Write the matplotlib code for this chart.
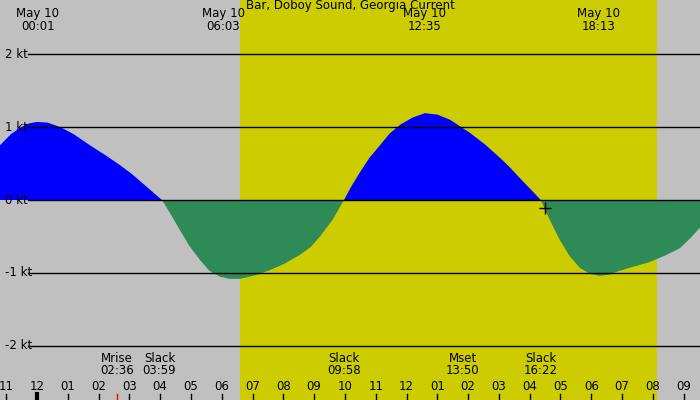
import matplotlib
matplotlib.use("Agg")
import matplotlib.pyplot as plt
import numpy as np

# hours since midnight May 10, current speed (kt)
hours = [-1.20, -0.85, -0.55, -0.25, 0.0, 0.35, 0.75, 1.2, 1.72, 2.2, 2.69, 3.1, 3.51, 4.06,
         4.35, 4.64, 4.95, 5.29, 5.6, 5.94, 6.25, 6.59, 7.1, 7.57, 8.05, 8.54, 8.9, 9.19, 9.6,
         9.97, 10.2, 10.49, 10.8, 11.14, 11.45, 11.79, 12.2, 12.60, 13.0, 13.41, 14.06, 14.55,
         15.03, 15.35, 15.68, 16.0, 16.36, 16.65, 16.98, 17.3, 17.63, 17.95, 18.27, 18.6,
         18.92, 19.4, 19.90, 20.4, 20.88, 21.2, 21.53]
speed = [0.75, 0.90, 0.99, 1.05, 1.07, 1.06, 1.00, 0.90, 0.75, 0.62, 0.48, 0.35, 0.20, 0.0,
         -0.20, -0.41, -0.63, -0.82, -0.97, -1.05, -1.08, -1.08, -1.03, -0.96, -0.87, -0.75,
         -0.64, -0.50, -0.27, 0.0, 0.18, 0.38, 0.58, 0.75, 0.91, 1.03, 1.13, 1.19, 1.17, 1.10,
         0.92, 0.76, 0.58, 0.45, 0.30, 0.16, 0.0, -0.27, -0.55, -0.77, -0.93, -1.01, -1.04,
         -1.02, -0.97, -0.91, -0.85, -0.76, -0.66, -0.53, -0.38]
top_labels = ["May 10\n00:01", "May 10\n06:03", "May 10\n12:35", "May 10\n18:13"]
top_hours = [0.02, 6.05, 12.58, 18.22]
event_labels = ["Mrise\n02:36", "Slack\n03:59", "Slack\n09:58", "Mset\n13:50", "Slack\n16:22"]
event_hours = [2.6, 3.98, 9.97, 13.83, 16.37]
sunrise, sunset = 6.59, 20.13
kt_levels = [2, 1, 0, -1, -2]
hour_ticks = list(range(-1, 22))

fig = plt.figure(figsize=(7, 4), dpi=100)
fig.patch.set_facecolor("#c0c0c0")
ax = fig.add_axes([0, 0, 1, 1])
x0, x1 = -1.20, 21.53
ax.set_xlim(x0, x1)
ax.set_ylim(-2.74, 2.74)
ax.axis("off")
ax.axvspan(x0, x1, color="#c0c0c0", lw=0, zorder=0)
ax.axvspan(sunrise, sunset, color="#cccc00", lw=0, zorder=0.5)

h = np.array(hours); s = np.array(speed)
ax.fill_between(h, s, 0, where=s >= 0, interpolate=True, color="#0000ff", lw=0)
ax.fill_between(h, s, 0, where=s <= 0, interpolate=True, color="#2e8b57", lw=0)

xl = x0 + (x1 - x0) * 0.04
for k in kt_levels:
    ax.plot([xl, x1], [k, k], color="black", lw=1)
    ax.text(x0 + 0.15, k, f"{k} kt", fontsize=8.5, va="center", ha="left")

ax.text((x0 + x1) / 2, 2.76, "Bar, Doboy Sound, Georgia Current", ha="center", va="top", fontsize=8.5)
for lab, th in zip(top_labels, top_hours):
    ax.text(th, 2.64, lab, ha="center", va="top", fontsize=8.5, linespacing=0.95)

for lab, eh in zip(event_labels, event_hours):
    ax.text(eh, -2.08, lab, ha="center", va="top", fontsize=8.5, linespacing=0.9)

for hh in hour_ticks:
    lab = f"{(hh % 12) if hh % 12 else 12:02d}"
    ax.text(hh, -2.56, lab, ha="center", va="center", fontsize=8.5)
    ax.plot([hh, hh], [-2.66, -2.74], color="black", lw=1 if hh != 0 else 3)
ax.plot([event_hours[0]] * 2, [-2.66, -2.74], color="red", lw=1)
ax.plot(16.5, -0.11, marker="+", color="black", ms=8, mew=1)

fig.savefig("out.png", dpi=100, facecolor="#c0c0c0")
